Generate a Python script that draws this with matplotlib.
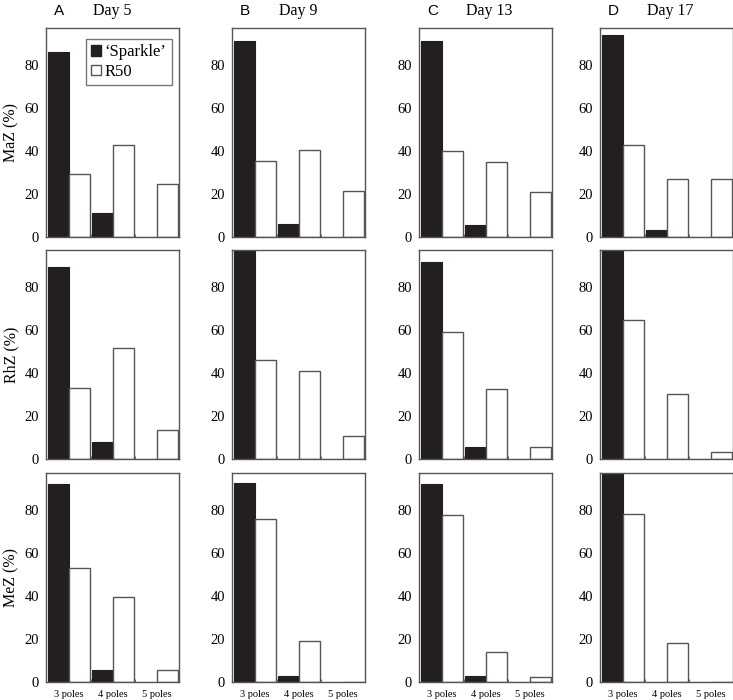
import matplotlib
matplotlib.use("Agg")
import matplotlib.pyplot as plt
from matplotlib.patches import Patch
import numpy as np

categories = ["3 poles", "4 poles", "5 poles"]
days = ["Day 5", "Day 9", "Day 13", "Day 17"]
letters = ["A", "B", "C", "D"]
rows = ["MaZ (%)", "RhZ (%)", "MeZ (%)"]
series_names = ["\u2018Sparkle\u2019", "R50"]

# Values [col][category] per row
sparkle_maz = [[85.7, 11.0, 0.0], [91.1, 5.9, 0.0], [91.0, 5.7, 0.0], [93.7, 3.1, 0.0]]
r50_maz = [[29.4, 42.9, 24.5], [35.1, 40.2, 21.4], [40.1, 35.0, 21.0], [42.7, 27.0, 26.8]]
sparkle_rhz = [[89.0, 8.1, 0.0], [98.0, 0.0, 0.0], [91.2, 5.8, 0.0], [98.0, 0.0, 0.0]]
r50_rhz = [[32.9, 51.7, 13.3], [45.8, 40.8, 10.9], [58.9, 32.5, 5.8], [64.5, 30.0, 3.1]]
sparkle_mez = [[91.9, 5.7, 0.0], [92.4, 2.6, 0.0], [92.0, 2.8, 0.0], [98.0, 0.0, 0.0]]
r50_mez = [[52.7, 39.3, 5.7], [75.6, 19.2, 0.0], [77.7, 14.0, 2.3], [78.1, 17.9, 0.0]]

sparkle = [sparkle_maz, sparkle_rhz, sparkle_mez]
r50 = [r50_maz, r50_rhz, r50_mez]
yticks = [0, 20, 40, 60, 80]

W, H = 733, 700
fig = plt.figure(figsize=(W / 100, H / 100), dpi=100)
fig.patch.set_facecolor("white")

serif = "Liberation Serif"
sans = "Liberation Sans"
dark = "#231f20"
edge = "#555555"

col_left = [46, 232, 419, 600]
row_top = [28, 250, 473]
aw, ah = 133, 209

x = np.arange(len(categories))
bw = 0.47

for r in range(3):
    for c in range(4):
        ax = fig.add_axes([col_left[c] / W, (H - row_top[r] - ah) / H, aw / W, ah / H])
        ax.bar(x - bw / 2, sparkle[r][c], width=bw, color=dark, edgecolor=dark, linewidth=0.8)
        ax.bar(x + bw / 2, r50[r][c], width=bw, color="white", edgecolor=edge, linewidth=1.0)
        ax.set_xlim(-0.52, 2.5)
        ax.set_ylim(0, 97)
        ax.set_yticks(yticks)
        ax.set_yticklabels([str(v) for v in yticks], fontfamily=serif, fontsize=10.5)
        ax.tick_params(axis="y", length=0, pad=5)
        ax.set_xticks([0.5, 1.5], minor=True)
        ax.tick_params(axis="x", which="minor", direction="in", length=2, color=edge)
        if r == 2:
            ax.set_xticks(x)
            ax.set_xticklabels(categories, fontfamily=serif, fontsize=7.5)
            ax.tick_params(axis="x", which="major", length=0, pad=6)
        else:
            ax.set_xticks([])
        for s in ax.spines.values():
            s.set_color(edge)
            s.set_linewidth(1.0)
        if r == 0:
            fig.text((col_left[c] + 8) / W, 1 - 11 / H, letters[c], fontfamily=sans,
                     fontsize=11, ha="left", va="center")
            fig.text((col_left[c] + 47) / W, 1 - 11 / H, days[c], fontfamily=serif,
                     fontsize=11.5, ha="left", va="center")
        if c == 0:
            fig.text(11 / W, (H - row_top[r] - ah / 2) / H, rows[r], fontfamily=serif,
                     fontsize=11.5, rotation=90, ha="center", va="center")
        if r == 0 and c == 0:
            handles = [Patch(facecolor=dark, edgecolor=dark),
                       Patch(facecolor="white", edgecolor=edge)]
            leg = ax.legend(handles, series_names, loc="upper right",
                            bbox_to_anchor=(0.945, 0.945), prop={"family": serif, "size": 12},
                            handlelength=0.6, handleheight=0.6, handletextpad=0.25,
                            borderpad=0.3, labelspacing=0.2, fancybox=False,
                            borderaxespad=0.0)
            leg.get_frame().set_edgecolor(edge)
            leg.get_frame().set_linewidth(1.0)

fig.savefig("out.png", dpi=100, facecolor="white")
